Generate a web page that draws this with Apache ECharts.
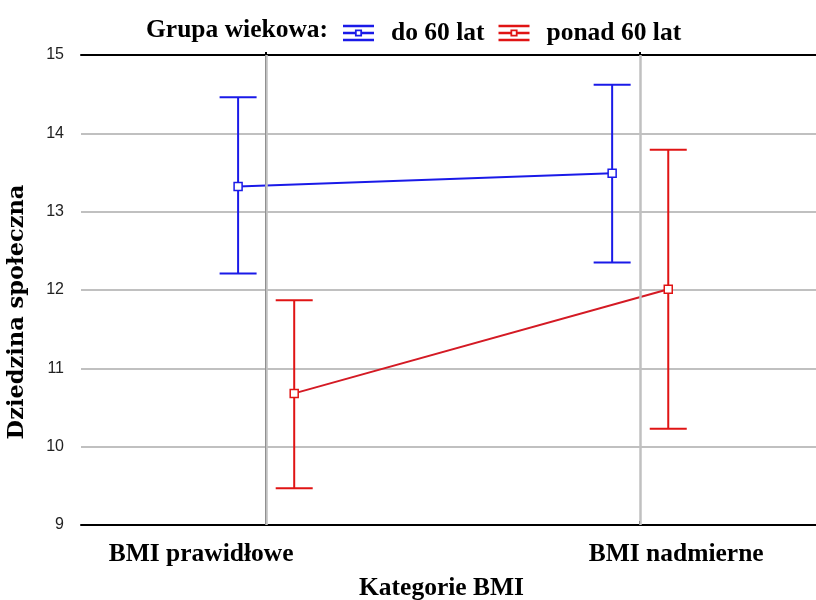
<!DOCTYPE html>
<html>
<head>
<meta charset="utf-8">
<script src="https://cdn.jsdelivr.net/npm/echarts@6/dist/echarts.min.js"></script>
<style>html,body{margin:0;padding:0;background:#fff;}#c{width:816px;height:600px;}</style>
</head>
<body>
<div id="c"></div>
<script>
const categories = ['BMI prawidłowe', 'BMI nadmierne'];
const groups = ['do 60 lat', 'ponad 60 lat'];
const meanUnder60 = [13.32, 13.49];
const lowerUnder60 = [12.21, 12.35];
const upperUnder60 = [14.46, 14.62];
const meanOver60 = [10.68, 12.01];
const lowerOver60 = [9.47, 10.23];
const upperOver60 = [11.87, 13.79];

const BLUE = '#1a1ae8';
const RED = '#e01414';
const RED_LINE = '#d41a24';
const OFF = 0.075;
const SERIF = '"Liberation Serif", "Times New Roman", serif';
const FS = 25.5;

const chart = echarts.init(document.getElementById('c'), null, {renderer: 'canvas'});

function errItem(color) {
  return function (params, api) {
    const x = api.value(0);
    const lo = api.coord([x, api.value(1)]);
    const hi = api.coord([x, api.value(2)]);
    const hw = 18.5;
    const st = {stroke: color, lineWidth: 2};
    return {
      type: 'group',
      children: [
        {type: 'line', shape: {x1: lo[0], y1: lo[1], x2: hi[0], y2: hi[1]}, style: st},
        {type: 'line', shape: {x1: hi[0] - hw, y1: hi[1], x2: hi[0] + hw, y2: hi[1]}, style: st},
        {type: 'line', shape: {x1: lo[0] - hw, y1: lo[1], x2: lo[0] + hw, y2: lo[1]}, style: st}
      ]
    };
  };
}

const iconPath = 'path://M0,0H26V2.2H0Z M0,11.8H26V14H0Z M0,6H10V8H0Z M16,6H26V8H16Z M10,4H16V5.5H10Z M10,8.5H16V10H10Z M10,4H11.5V10H10Z M14.5,4H16V10H14.5Z';

const option = {
  animation: false,
  backgroundColor: '#ffffff',
  title: {
    text: 'Grupa wiekowa:',
    left: 141,
    top: 12,
    textStyle: {fontFamily: SERIF, fontWeight: 'bold', fontSize: FS, color: '#000'}
  },
  legend: {
    left: 338,
    top: 15,
    itemWidth: 31,
    itemHeight: 17,
    itemGap: 14,
    textStyle: {fontFamily: SERIF, fontWeight: 'bold', fontSize: FS, color: '#000', padding: [0, 0, 0, 12]},
    data: [
      {name: groups[0], icon: iconPath, itemStyle: {color: BLUE}},
      {name: groups[1], icon: iconPath, itemStyle: {color: RED}}
    ]
  },
  grid: {left: 81, right: 0, top: 55, bottom: 75, containLabel: false, outerBoundsMode: 'none'},
  xAxis: [
    {
      type: 'value',
      min: -0.495,
      max: 1.47,
      position: 'bottom',
      axisLine: {show: true, lineStyle: {color: '#000', width: 2}},
      axisTick: {show: true, inside: true, customValues: [0, 1], length: 4, lineStyle: {color: '#000', width: 2}},
      splitLine: {show: false},
      axisLabel: {
        customValues: [0, 1],
        margin: 16,
        formatter: function (v) {
          const i = Math.round(v);
          return i === 0 ? '{l|' + categories[0] + '}' : '{r|' + categories[1] + '}';
        },
        rich: {
          l: {fontFamily: SERIF, fontWeight: 'bold', fontSize: FS, color: '#000', padding: [0, 130, 0, 0]},
          r: {fontFamily: SERIF, fontWeight: 'bold', fontSize: FS, color: '#000', padding: [0, 0, 0, 72]}
        }
      },
      name: 'Kategorie BMI',
      nameLocation: 'middle',
      nameGap: 50,
      nameTextStyle: {fontFamily: SERIF, fontWeight: 'bold', fontSize: FS, color: '#000', padding: [0, 14, 0, 0]}
    },
    {
      type: 'value',
      min: -0.495,
      max: 1.47,
      position: 'top',
      axisLine: {show: true, lineStyle: {color: '#000', width: 2}},
      axisTick: {show: true, customValues: [0, 1], length: 3, lineStyle: {color: '#000', width: 2}},
      axisLabel: {show: false},
      splitLine: {show: false}
    }
  ],
  yAxis: {
    type: 'value',
    min: 9,
    max: 15,
    interval: 1,
    axisLine: {show: true, lineStyle: {color: '#000', width: 2}},
    axisTick: {show: false},
    splitLine: {show: true, lineStyle: {color: '#c0c0c0', width: 2}},
    axisLabel: {
      margin: 17,
      fontFamily: '"Liberation Sans Narrow", "Liberation Sans", Arial, sans-serif',
      fontSize: 16,
      color: '#222'
    },
    name: 'Dziedzina społeczna',
    nameLocation: 'middle',
    nameRotate: 90,
    nameGap: 52,
    nameTextStyle: {fontFamily: '"DejaVu Serif", serif', fontWeight: 'bold', fontSize: 22.5, color: '#000', padding: [0, 44, 0, 0]}
  },
  series: [
    {
      name: groups[0],
      type: 'custom',
      z: 2,
      renderItem: errItem(BLUE),
      encode: {x: 0, y: [1, 2]},
      data: categories.map((c, i) => [i - OFF, lowerUnder60[i], upperUnder60[i]]),
      markLine: {
        silent: true,
        symbol: 'none',
        label: {show: false},
        lineStyle: {color: '#c0c0c0', width: 2.5, type: 'solid'},
        data: categories.map((c, i) => ({xAxis: i}))
      }
    },
    {
      name: groups[1],
      type: 'custom',
      z: 2,
      renderItem: errItem(RED),
      encode: {x: 0, y: [1, 2]},
      data: categories.map((c, i) => [i + OFF, lowerOver60[i], upperOver60[i]])
    },
    {
      name: groups[0],
      type: 'line',
      z: 3,
      symbol: 'rect',
      symbolSize: 8,
      lineStyle: {color: BLUE, width: 2},
      itemStyle: {color: '#fff', borderColor: BLUE, borderWidth: 1.5},
      data: categories.map((c, i) => [i - OFF, meanUnder60[i]])
    },
    {
      name: groups[1],
      type: 'line',
      z: 3,
      symbol: 'rect',
      symbolSize: 8,
      lineStyle: {color: RED_LINE, width: 2},
      itemStyle: {color: '#fff', borderColor: RED, borderWidth: 1.5},
      data: categories.map((c, i) => [i + OFF, meanOver60[i]])
    }
  ]
};
chart.setOption(option);
</script>
</body>
</html>
